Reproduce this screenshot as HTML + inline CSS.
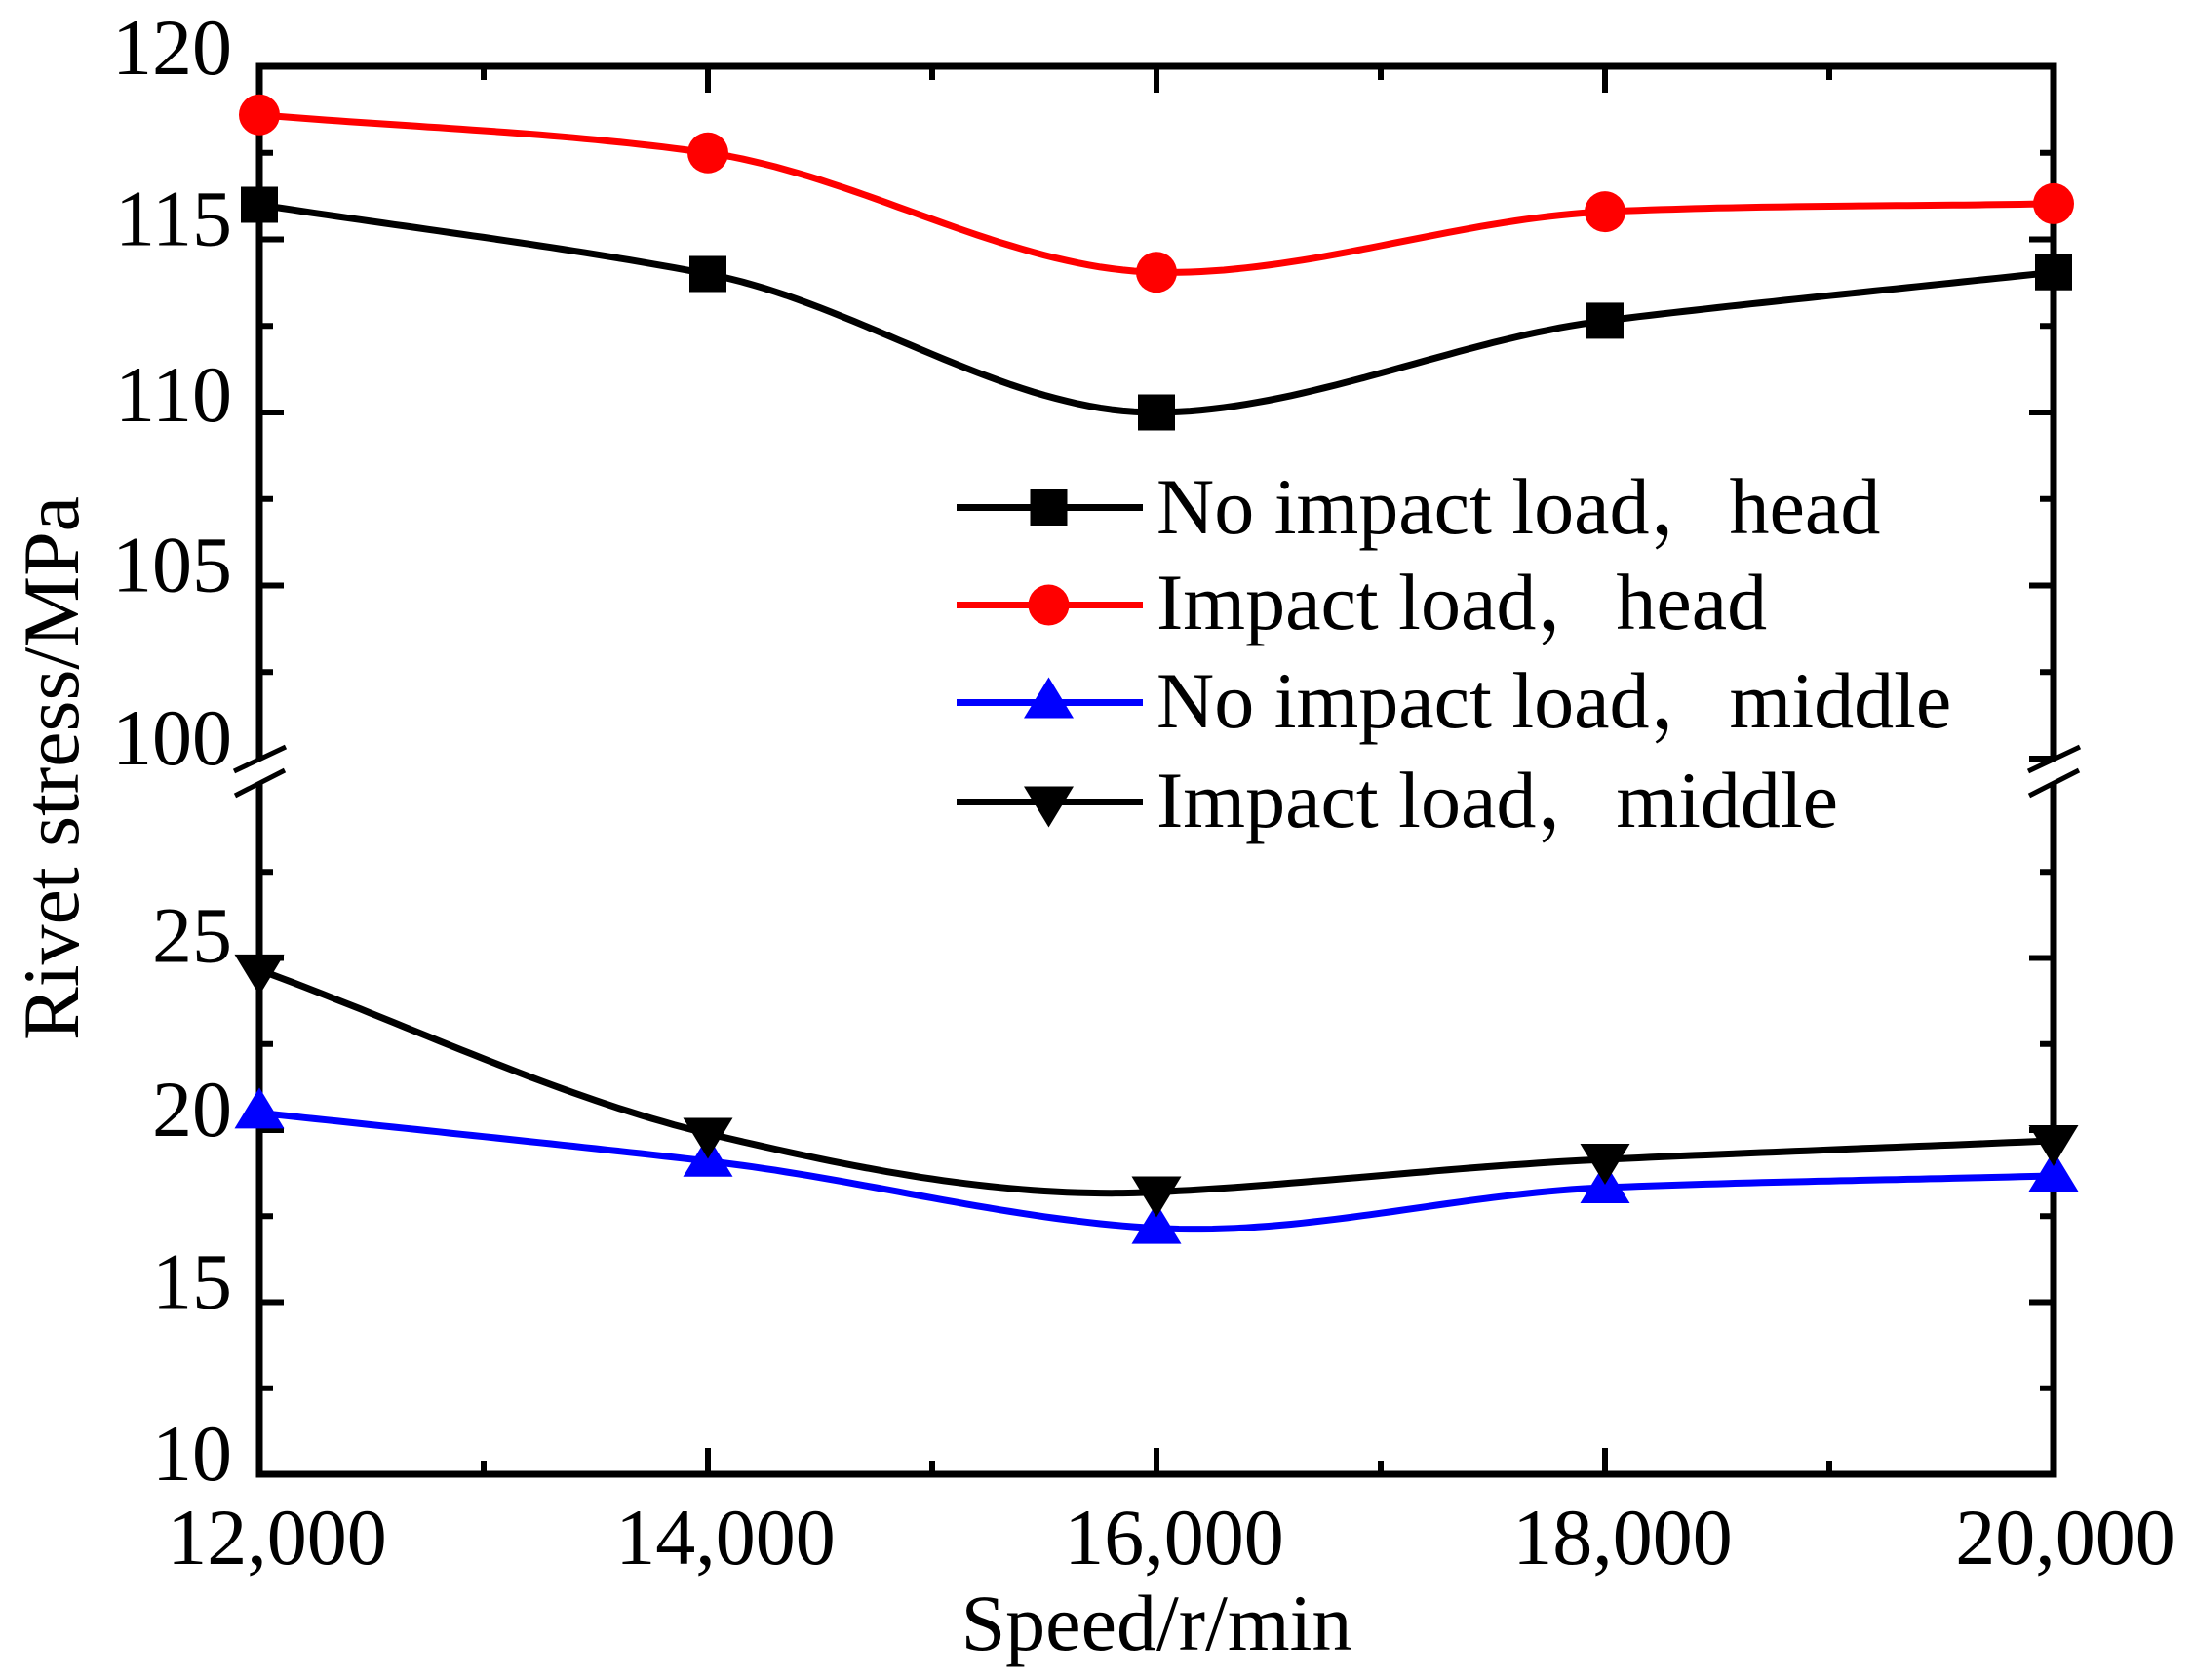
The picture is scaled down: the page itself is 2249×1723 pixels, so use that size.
<!DOCTYPE html>
<html lang="en">
<head>
<meta charset="utf-8">
<title>Rivet stress vs speed</title>
<style>
html,body{margin:0;padding:0;background:#fff;}
svg{display:block;}
text{font-family:"Liberation Serif","Noto Serif CJK SC",serif;font-size:82px;fill:#000;}
</style>
</head>
<body>
<svg id="chart" xmlns="http://www.w3.org/2000/svg" width="2249" height="1723" viewBox="0 0 2249 1723">
<rect x="0" y="0" width="2249" height="1723" fill="#fff"/>
<g id="axes"></g>
<g id="series"></g>
<g id="legend"></g>
</svg>
<script>
const speeds = [12000, 14000, 16000, 18000, 20000];
const noImpactHead = [116, 114, 110, 112.65, 114.05];
const impactHead = [118.6, 117.5, 114.05, 115.8, 116.03];
const noImpactMiddle = [20.5, 19.1, 17.15, 18.33, 18.67];
const impactMiddle = [24.65, 19.9, 18.2, 19.15, 19.69];

const xMajorTicks = [12000, 14000, 16000, 18000, 20000];
const xMinorTicks = [13000, 15000, 17000, 19000];
const xTickLabels = ["12,000", "14,000", "16,000", "18,000", "20,000"];
const yMajorUpper = [100, 105, 110, 115];
const yMinorUpper = [102.5, 107.5, 112.5, 117.5];
const yMajorLower = [15, 20, 25];
const yMinorLower = [12.5, 17.5, 22.5, 27.5];
const yTickValues = [120, 115, 110, 105, 100, 25, 20, 15, 10];
const legendLabels = ["No impact load，head", "Impact load，head", "No impact load，middle", "Impact load，middle"];

const NS = "http://www.w3.org/2000/svg";
const axes = document.getElementById("axes");
const seriesLayer = document.getElementById("series");
const legend = document.getElementById("legend");

function xScale(v) { return 266 + (v - 12000) * (2106 - 266) / 8000; }
function yScale(v) {
  return v >= 60 ? 778 - (v - 100) * 35.5 : 1512 - (v - 10) * 35.3;
}
function yLabelBaseline(v) {
  if (v === 120) return 76;
  if (v === 110) return yScale(v) + 9;
  if (v === 25) return yScale(v) + 4;
  return yScale(v) + 6;
}

function make(tag, attrs, parent) {
  const el = document.createElementNS(NS, tag);
  for (const k in attrs) el.setAttribute(k, attrs[k]);
  parent.appendChild(el);
  return el;
}

/* Akima-style interpolation through the points, matching the knees of the original curves */
function splinePath(xs, ys) {
  const n = xs.length;
  const m = [];
  for (let i = 0; i < n - 1; i++) m.push((ys[i + 1] - ys[i]) / (xs[i + 1] - xs[i]));
  const slope = function (i) {
    if (i >= 0 && i < n - 1) return m[i];
    if (i === -1) return 2 * m[0] - m[1];
    if (i === -2) return 2 * (2 * m[0] - m[1]) - m[0];
    if (i === n - 1) return 2 * m[n - 2] - m[n - 3];
    return 2 * (2 * m[n - 2] - m[n - 3]) - m[n - 2];
  };
  const t = [];
  for (let i = 0; i < n; i++) {
    if (i === 0) { t.push(m[0]); continue; }
    if (i === n - 1) { t.push(m[n - 2]); continue; }
    const w1 = Math.abs(slope(i + 1) - slope(i));
    const w2 = Math.abs(slope(i - 1) - slope(i - 2));
    t.push(w1 + w2 === 0 ? (slope(i - 1) + slope(i)) / 2 : (w1 * slope(i - 1) + w2 * slope(i)) / (w1 + w2));
  }
  let d = "M" + xs[0].toFixed(1) + " " + ys[0].toFixed(1);
  for (let i = 0; i < n - 1; i++) {
    const h = xs[i + 1] - xs[i];
    for (let s = 1; s <= 40; s++) {
      const u = s / 40;
      const h00 = 2 * u * u * u - 3 * u * u + 1;
      const h10 = u * u * u - 2 * u * u + u;
      const h01 = -2 * u * u * u + 3 * u * u;
      const h11 = u * u * u - u * u;
      const y = h00 * ys[i] + h10 * h * t[i] + h01 * ys[i + 1] + h11 * h * t[i + 1];
      d += "L" + (xs[i] + h * u).toFixed(1) + " " + y.toFixed(1);
    }
  }
  return d;
}

function drawMarker(kind, cx, cy, color, parent) {
  let el;
  if (kind === "square") {
    el = make("rect", { x: cx - 19, y: cy - 18.5, width: 38, height: 37, fill: color }, parent);
  } else if (kind === "circle") {
    el = make("circle", { cx: cx, cy: cy, r: 21, fill: color }, parent);
  } else if (kind === "up") {
    el = make("polygon", { points: (cx - 25.5) + "," + (cy + 16) + " " + (cx + 25.5) + "," + (cy + 16) + " " + cx + "," + (cy - 26), fill: color }, parent);
  } else {
    el = make("polygon", { points: (cx - 25.5) + "," + (cy - 16) + " " + (cx + 25.5) + "," + (cy - 16) + " " + cx + "," + (cy + 26), fill: color }, parent);
  }
  
  
  return el;
}

/* frame */
const frame = make("rect", { x: 266, y: 68, width: 1840, height: 1444, fill: "none", stroke: "#000", "stroke-width": 7 }, axes);



/* x ticks */
function drawXTick(v, len, label) {
  const x = xScale(v);
  const bottom = make("line", { x1: x, x2: x, y1: 1512, y2: 1512 - len, stroke: "#000", "stroke-width": 6 }, axes);
  
  
  const top = make("line", { x1: x, x2: x, y1: 68, y2: 68 + len, stroke: "#000", "stroke-width": 6 }, axes);
  
  
}
xMajorTicks.slice(1, -1).forEach(v => drawXTick(v, 27, "x-major-tick"));
xMinorTicks.forEach(v => drawXTick(v, 14, "x-minor-tick"));

/* y ticks */
function drawYTick(v, len, label) {
  const y = yScale(v);
  const left = make("line", { x1: 266, x2: 266 + len, y1: y, y2: y, stroke: "#000", "stroke-width": 6 }, axes);
  
  
  const right = make("line", { x1: 2106, x2: 2106 - len, y1: y, y2: y, stroke: "#000", "stroke-width": 6 }, axes);
  
  
}
yMajorUpper.concat(yMajorLower).forEach(v => drawYTick(v, 25, "y-major-tick"));
yMinorUpper.concat(yMinorLower).forEach(v => drawYTick(v, 14, "y-minor-tick"));

/* axis breaks */
[266, 2106].forEach(function (cx) {
  const gap = make("polygon", { points: (cx - 26) + ",790 " + (cx + 27) + ",765 " + (cx + 27) + ",790 " + (cx - 26) + ",817", fill: "#fff" }, axes);
  
  
  const s1 = make("line", { x1: cx - 26, y1: 791, x2: cx + 27, y2: 766, stroke: "#000", "stroke-width": 5 }, axes);
  
  
  const s2 = make("line", { x1: cx - 25, y1: 816, x2: cx + 26, y2: 790, stroke: "#000", "stroke-width": 5 }, axes);
  
  
});

/* tick labels */
yTickValues.forEach(function (v) {
  const t = make("text", { x: 238, y: yLabelBaseline(v), "text-anchor": "end" }, axes);
  
  
  t.textContent = String(v);
});
xTickLabels.forEach(function (label, i) {
  const x = Math.min(xScale(xMajorTicks[i]) + 18, 2118);
  const t = make("text", { x: x, y: 1604, "text-anchor": "middle" }, axes);
  
  
  t.textContent = label;
});

/* axis titles */
const xTitle = make("text", { x: 1186, y: 1692, "text-anchor": "middle" }, axes);


xTitle.textContent = "Speed/r/min";
const yTitle = make("text", { x: 0, y: 0, transform: "translate(80 1067) rotate(-90)" }, axes);


yTitle.textContent = "Rivet stress/MPa";

/* series */
function drawSeries(values, color, kind, name) {
  const xs = speeds.map(xScale);
  const ys = values.map(yScale);
  const line = make("path", { d: splinePath(xs, ys), fill: "none", stroke: color, "stroke-width": 7, "stroke-linejoin": "round" }, seriesLayer);
  
  
  xs.forEach((x, i) => drawMarker(kind, x, ys[i], color, seriesLayer));
}
drawSeries(noImpactHead, "#000", "square", "no-impact-head");
drawSeries(impactHead, "#f00", "circle", "impact-head");
drawSeries(noImpactMiddle, "#00f", "up", "no-impact-middle");
drawSeries(impactMiddle, "#000", "down", "impact-middle");

/* legend */
function drawLegendRow(label, color, kind, lineY, baseY) {
  const l = make("line", { x1: 981, x2: 1172, y1: lineY, y2: lineY, stroke: color, "stroke-width": 7 }, legend);
  
  
  drawMarker(kind, 1075.5, lineY, color, legend);
  const t = make("text", { x: 1186, y: baseY }, legend);
  
  
  t.textContent = label;
}
drawLegendRow(legendLabels[0], "#000", "square", 520.5, 547);
drawLegendRow(legendLabels[1], "#f00", "circle", 620.5, 645);
drawLegendRow(legendLabels[2], "#00f", "up", 720.5, 746);
drawLegendRow(legendLabels[3], "#000", "down", 822.5, 848);
</script>
</body>
</html>
